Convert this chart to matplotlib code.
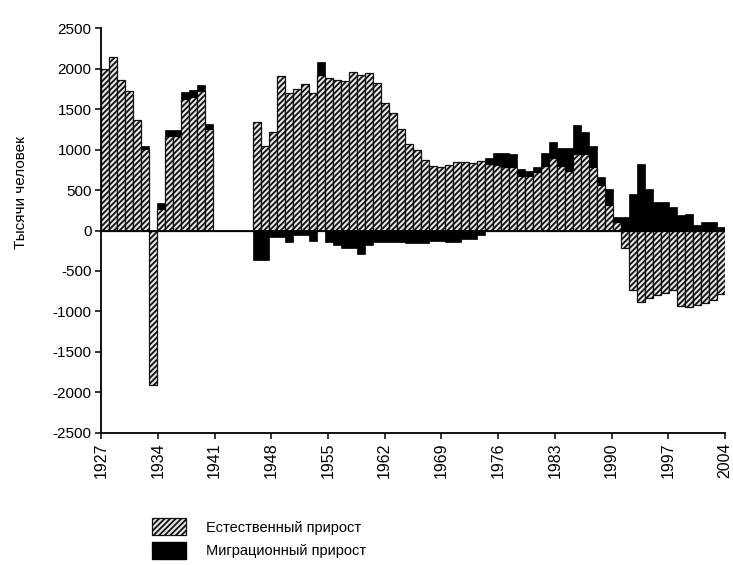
import numpy as np
import matplotlib
matplotlib.use("Agg")
import matplotlib.pyplot as plt
from matplotlib.patches import Patch

plt.rcParams['font.family'] = ['Liberation Sans', 'DejaVu Sans']
plt.rcParams['hatch.linewidth'] = 1.3

# Years 1927-2004, thousands of people (1941-1945: no data)
years = np.arange(1927, 2005)

natural = np.array([
    2000, 2150, 1860, 1720, 1370, 1010, -1910, 270, 1170, 1170,   # 1927-1936
    1630, 1650, 1720, 1250, 0, 0, 0, 0, 0, 1340,                  # 1937-1946
    1050, 1220, 1910, 1700, 1750, 1810, 1700, 1920, 1890, 1860,   # 1947-1956
    1850, 1960, 1920, 1950, 1820, 1570, 1450, 1250, 1070, 990,    # 1957-1966
    870, 800, 780, 810, 850, 850, 840, 860, 820, 810,             # 1967-1976
    790, 780, 680, 680, 720, 800, 900, 800, 730, 950,             # 1977-1986
    950, 780, 560, 320, 110, -210, -740, -880, -840, -800,        # 1987-1996
    -770, -740, -930, -950, -920, -900, -860, -780,               # 1997-2004
])

migration = np.array([
    0, 0, 0, 0, 0, 40, 0, 70, 75, 75,                             # 1927-1936
    80, 85, 75, 65, 0, 0, 0, 0, 0, -370,                          # 1937-1946
    -370, -80, -80, -140, -60, -60, -130, 160, -140, -180,        # 1947-1956
    -220, -220, -290, -180, -140, -140, -140, -140, -160, -160,   # 1957-1966
    -160, -130, -130, -140, -140, -100, -100, -60, 80, 150,       # 1967-1976
    170, 170, 80, 60, 60, 160, 190, 220, 290, 350,                # 1977-1986
    270, 260, 100, 190, 55, 170, 450, 820, 510, 350,              # 1987-1996
    350, 290, 190, 210, 70, 100, 100, 40,                         # 1997-2004
])

tick_years = np.arange(1927, 2005, 7)
y_ticks = np.arange(-2500, 2501, 500)

fig = plt.figure(figsize=(7.33, 5.65), dpi=100)
ax = fig.add_axes([0.138, 0.234, 0.851, 0.716])

pos = np.arange(len(years))
# migration sits on top of natural growth when both have the same sign
mig_bottom = np.where(np.sign(migration) == np.sign(natural), natural, 0)

hatch_face = '#e6e6e6'
ax.bar(pos, natural, width=1, align='edge', facecolor=hatch_face,
       edgecolor='#111111', hatch='//////', linewidth=0.9)
ax.bar(pos, migration, bottom=mig_bottom, width=1, align='edge',
       color='black', edgecolor='black', linewidth=0.5)

ax.axhline(0, color='black', lw=1.3)

ax.set_xlim(0, len(years))
ax.set_ylim(-2500, 2500)
ax.set_xticks(np.linspace(0, len(years), len(tick_years)))
ax.set_xticklabels([str(y) for y in tick_years], rotation=90, fontsize=11.5)
ax.set_yticks(y_ticks)
ax.set_yticklabels([str(v) for v in y_ticks], fontsize=11)
ax.tick_params(direction='out', length=4, width=1.1, pad=3)

for s in ['top', 'right']:
    ax.spines[s].set_visible(False)
ax.spines['left'].set_linewidth(1.3)
ax.spines['bottom'].set_linewidth(1.3)

fig.text(0.028, 0.66, 'Тысячи человек', rotation=90, fontsize=11,
         ha='center', va='center')

handles = [
    Patch(facecolor=hatch_face, edgecolor='#111111', hatch='//////', lw=0.9),
    Patch(facecolor='black', edgecolor='black'),
]
fig.legend(handles, ['Естественный прирост', 'Миграционный прирост'],
           loc='lower left', bbox_to_anchor=(0.19, -0.012), frameon=False,
           fontsize=10.5, handlelength=2.3, handleheight=1.4,
           labelspacing=0.45, handletextpad=1.4)

fig.savefig('out.png', dpi=100)
